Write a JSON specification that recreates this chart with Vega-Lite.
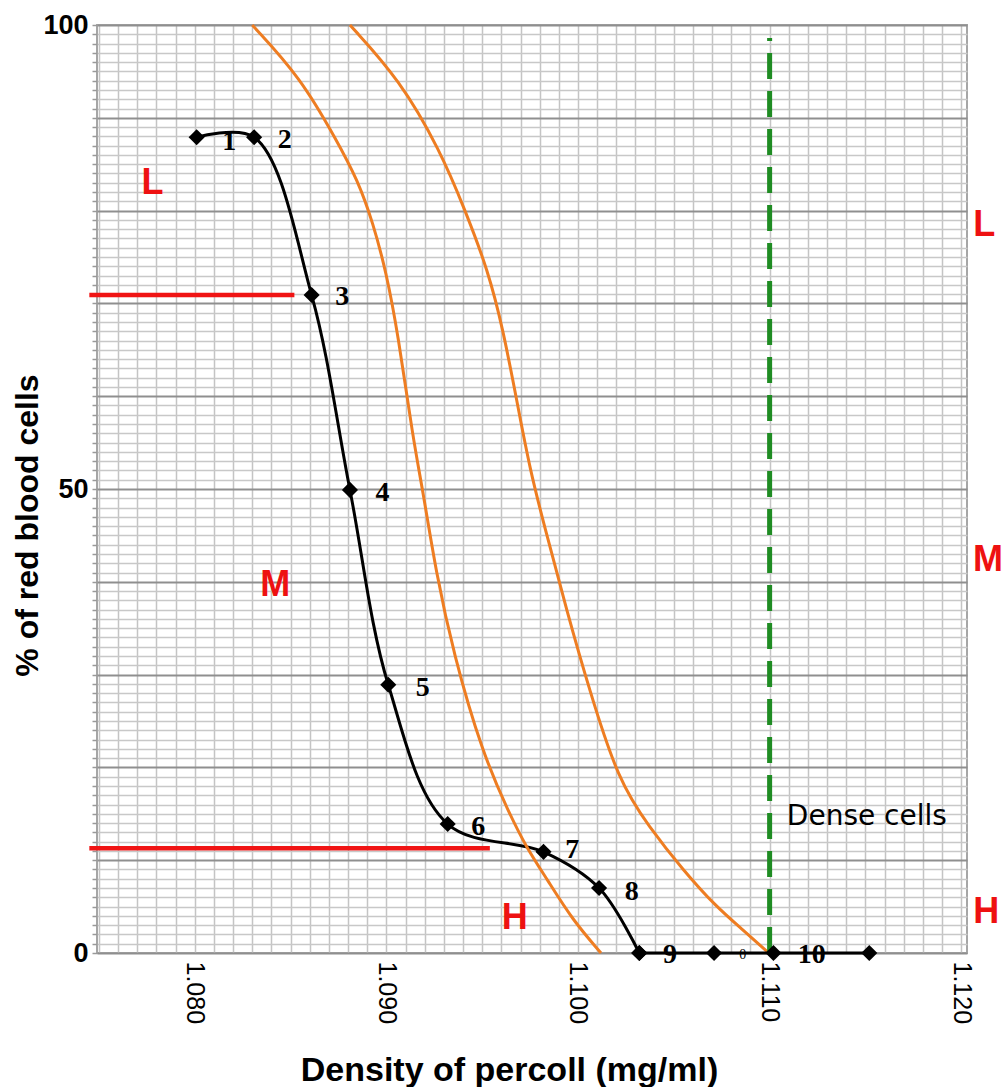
{
  "$schema": "https://vega.github.io/schema/vega-lite/v6.json",
  "autosize": {"type": "none"},
  "padding": {"left": 97, "top": 25, "right": 39, "bottom": 134},
  "width": 870,
  "height": 928,
  "background": "white",
  "config": {"view": {"stroke": "#a6a6a6", "strokeWidth": 2}, "font": "Liberation Sans"},
  "datasets": {
    "black": [
      {"n": 1, "x": 1.0801, "y": 87.9},
      {"n": 2, "x": 1.0831, "y": 87.9},
      {"n": 3, "x": 1.0861, "y": 70.9},
      {"n": 4, "x": 1.0881, "y": 49.9},
      {"n": 5, "x": 1.0901, "y": 28.9},
      {"n": 6, "x": 1.0932, "y": 13.9},
      {"n": 7, "x": 1.0982, "y": 10.9},
      {"n": 8, "x": 1.1011, "y": 7.0},
      {"n": 9, "x": 1.1032, "y": 0}
    ],
    "zeroline": [
      {"x": 1.1032, "y": 0},
      {"x": 1.1071, "y": 0},
      {"x": 1.1102, "y": 0},
      {"x": 1.1152, "y": 0}
    ],
    "orange": [
      {"c": "a", "x": 1.0830, "y": 100},
      {"c": "a", "x": 1.0855, "y": 94.4},
      {"c": "a", "x": 1.0874, "y": 87.6},
      {"c": "a", "x": 1.0885, "y": 83.3},
      {"c": "a", "x": 1.0893, "y": 78.7},
      {"c": "a", "x": 1.0900, "y": 73.3},
      {"c": "a", "x": 1.0906, "y": 66.8},
      {"c": "a", "x": 1.0914, "y": 55.3},
      {"c": "a", "x": 1.0919, "y": 49.9},
      {"c": "a", "x": 1.0926, "y": 40.9},
      {"c": "a", "x": 1.0935, "y": 32.3},
      {"c": "a", "x": 1.0950, "y": 21.6},
      {"c": "a", "x": 1.0964, "y": 15.1},
      {"c": "a", "x": 1.0973, "y": 11.4},
      {"c": "a", "x": 1.0984, "y": 7.9},
      {"c": "a", "x": 1.0997, "y": 3.6},
      {"c": "a", "x": 1.1012, "y": 0},
      {"c": "b", "x": 1.0881, "y": 100},
      {"c": "b", "x": 1.0907, "y": 94.1},
      {"c": "b", "x": 1.0928, "y": 86.5},
      {"c": "b", "x": 1.0941, "y": 80.1},
      {"c": "b", "x": 1.0953, "y": 73.6},
      {"c": "b", "x": 1.0961, "y": 67.1},
      {"c": "b", "x": 1.0968, "y": 59.6},
      {"c": "b", "x": 1.0975, "y": 52.0},
      {"c": "b", "x": 1.0983, "y": 45.6},
      {"c": "b", "x": 1.0994, "y": 37.0},
      {"c": "b", "x": 1.1006, "y": 28.3},
      {"c": "b", "x": 1.1021, "y": 18.6},
      {"c": "b", "x": 1.1037, "y": 13.6},
      {"c": "b", "x": 1.1055, "y": 8.9},
      {"c": "b", "x": 1.1072, "y": 5.0},
      {"c": "b", "x": 1.1086, "y": 2.5},
      {"c": "b", "x": 1.1099, "y": 0.1}
    ],
    "redlines": [
      {"x": 1.0745, "x2": 1.0852, "y": 70.9},
      {"x": 1.0745, "x2": 1.0954, "y": 11.3}
    ],
    "green": [{"x": 1.110, "y": 0, "y2": 98.6}],
    "nums": [
      {"t": "1", "x": 1.0818, "y": 87.4},
      {"t": "2", "x": 1.0847, "y": 87.6},
      {"t": "3", "x": 1.0877, "y": 70.7},
      {"t": "4", "x": 1.0898, "y": 49.6},
      {"t": "5", "x": 1.0919, "y": 28.6},
      {"t": "6", "x": 1.0948, "y": 13.6},
      {"t": "7", "x": 1.0997, "y": 11.1},
      {"t": "8", "x": 1.1028, "y": 6.6},
      {"t": "9", "x": 1.1048, "y": -0.2},
      {"t": "10", "x": 1.1122, "y": -0.2}
    ],
    "tiny": [{"t": "0", "x": 1.1086, "y": -0.2}],
    "zones": [
      {"t": "L", "x": 1.0778, "y": 83.0},
      {"t": "M", "x": 1.0842, "y": 39.7},
      {"t": "H", "x": 1.0967, "y": 3.8},
      {"t": "L", "x": 1.1212, "y": 78.4},
      {"t": "M", "x": 1.1214, "y": 42.3},
      {"t": "H", "x": 1.1213, "y": 4.4}
    ],
    "note": [{"t": "Dense cells", "x": 1.1109, "y": 14.7}]
  },
  "layer": [
    {
      "data": {"name": "black"},
      "mark": {"type": "line", "color": "black", "strokeWidth": 3, "interpolate": "catmull-rom"},
      "encoding": {
        "x": {
          "field": "x", "type": "quantitative",
          "scale": {"domain": [1.0749, 1.1203], "nice": false, "zero": false},
          "axis": {
            "title": "Density of percoll (mg/ml)",
            "values": [1.075,1.076,1.077,1.078,1.079,1.08,1.081,1.082,1.083,1.084,1.085,1.086,1.087,1.088,1.089,1.09,1.091,1.092,1.093,1.094,1.095,1.096,1.097,1.098,1.099,1.1,1.101,1.102,1.103,1.104,1.105,1.106,1.107,1.108,1.109,1.11,1.111,1.112,1.113,1.114,1.115,1.116,1.117,1.118,1.119,1.12],
            "tickCount": 500,
            "labelExpr": "abs(datum.value*100 - round(datum.value*100)) < 0.001 ? format(datum.value, '.3f') : ''",
            "grid": true, "gridColor": "#c4c4c4", "gridWidth": 1.5,
            "ticks": false, "domain": false,
            "labelAngle": 90, "labelFontSize": 25, "labelColor": "black", "labelPadding": 8,
            "labelOverlap": false, "labelFlush": false, "labelFont": "Liberation Sans",
            "titleFont": "Liberation Sans", "titleFontSize": 34, "titleFontWeight": "bold", "titleColor": "black",
            "titleX": 412, "titleY": 127, "titleAlign": "center", "titleBaseline": "alphabetic"
          }
        },
        "y": {
          "field": "y", "type": "quantitative",
          "scale": {"domain": [0, 100], "nice": false},
          "axis": {
            "title": "% of red blood cells",
            "format": "d",
            "values": [0,1,2,3,4,5,6,7,8,9,10,11,12,13,14,15,16,17,18,19,20,21,22,23,24,25,26,27,28,29,30,31,32,33,34,35,36,37,38,39,40,41,42,43,44,45,46,47,48,49,50,51,52,53,54,55,56,57,58,59,60,61,62,63,64,65,66,67,68,69,70,71,72,73,74,75,76,77,78,79,80,81,82,83,84,85,86,87,88,89,90,91,92,93,94,95,96,97,98,99,100],
            "tickCount": 500,
            "labelExpr": "datum.value % 50 === 0 ? datum.label : ''",
            "grid": true,
            "gridColor": {"condition": {"test": "datum.value % 10 === 0", "value": "#8f8f8f"}, "value": "#c8c8c8"},
            "gridWidth": {"condition": {"test": "datum.value % 10 === 0", "value": 2}, "value": 1.5},
            "ticks": true, "tickSize": 5, "tickColor": "#999999", "tickWidth": 1.5,
            "domain": false,
            "labelFontSize": 27, "labelFontWeight": "bold", "labelColor": "black", "labelPadding": 4,
            "labelOverlap": false, "labelFlush": false, "labelFont": "Liberation Sans",
            "titleFont": "Liberation Sans", "titleFontSize": 32, "titleFontWeight": "bold", "titleColor": "black",
            "titleX": -60, "titleY": 500, "titleAlign": "center", "titleBaseline": "alphabetic", "titleAngle": -90
          }
        }
      }
    },
    {
      "data": {"name": "orange"},
      "mark": {"type": "line", "color": "#ee7d22", "strokeWidth": 3, "interpolate": "basis"},
      "encoding": {
        "x": {"field": "x", "type": "quantitative"},
        "y": {"field": "y", "type": "quantitative"},
        "detail": {"field": "c"}
      }
    },
    {
      "data": {"name": "zeroline"},
      "mark": {"type": "line", "color": "black", "strokeWidth": 3},
      "encoding": {
        "x": {"field": "x", "type": "quantitative"},
        "y": {"field": "y", "type": "quantitative"}
      }
    },
    {
      "data": {"name": "redlines"},
      "mark": {"type": "rule", "color": "#f01414", "strokeWidth": 4.5},
      "encoding": {
        "x": {"field": "x", "type": "quantitative"},
        "x2": {"field": "x2"},
        "y": {"field": "y", "type": "quantitative"}
      }
    },
    {
      "data": {"name": "green"},
      "mark": {"type": "rule", "color": "#1f8c23", "strokeWidth": 5, "strokeDash": [26, 12]},
      "encoding": {
        "x": {"field": "x", "type": "quantitative"},
        "y": {"field": "y", "type": "quantitative"},
        "y2": {"field": "y2"}
      }
    },
    {
      "data": {"name": "black"},
      "mark": {"type": "point", "shape": "diamond", "filled": true, "color": "black", "size": 260, "opacity": 1},
      "encoding": {
        "x": {"field": "x", "type": "quantitative"},
        "y": {"field": "y", "type": "quantitative"}
      }
    },
    {
      "data": {"name": "zeroline"},
      "mark": {"type": "point", "shape": "diamond", "filled": true, "color": "black", "size": 260, "opacity": 1},
      "encoding": {
        "x": {"field": "x", "type": "quantitative"},
        "y": {"field": "y", "type": "quantitative"}
      }
    },
    {
      "data": {"name": "nums"},
      "mark": {"type": "text", "font": "Liberation Serif", "fontWeight": "bold", "fontSize": 28, "color": "black", "align": "center", "baseline": "middle"},
      "encoding": {
        "x": {"field": "x", "type": "quantitative"},
        "y": {"field": "y", "type": "quantitative"},
        "text": {"field": "t"}
      }
    },
    {
      "data": {"name": "tiny"},
      "mark": {"type": "text", "font": "Liberation Serif", "fontSize": 14, "color": "black", "align": "center", "baseline": "middle"},
      "encoding": {
        "x": {"field": "x", "type": "quantitative"},
        "y": {"field": "y", "type": "quantitative"},
        "text": {"field": "t"}
      }
    },
    {
      "data": {"name": "zones"},
      "mark": {"type": "text", "font": "Liberation Sans", "fontWeight": "bold", "fontSize": 36, "color": "#ee1111", "align": "center", "baseline": "middle"},
      "encoding": {
        "x": {"field": "x", "type": "quantitative"},
        "y": {"field": "y", "type": "quantitative"},
        "text": {"field": "t"}
      }
    },
    {
      "data": {"name": "note"},
      "mark": {"type": "text", "font": "DejaVu Sans", "fontSize": 28, "color": "black", "align": "left", "baseline": "middle"},
      "encoding": {
        "x": {"field": "x", "type": "quantitative"},
        "y": {"field": "y", "type": "quantitative"},
        "text": {"field": "t"}
      }
    }
  ]
}
